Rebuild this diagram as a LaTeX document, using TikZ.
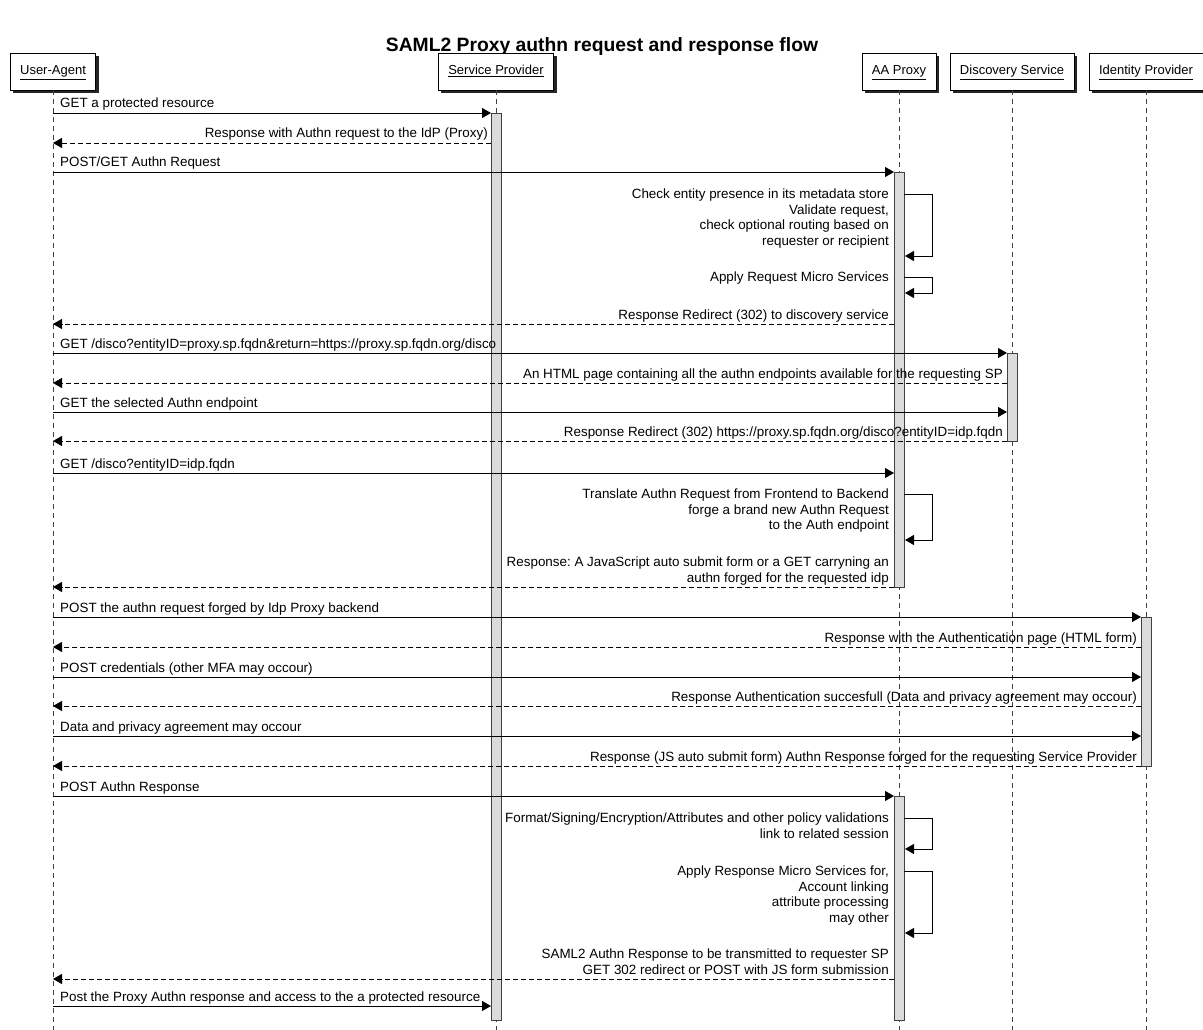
\documentclass[tikz,border=0pt]{standalone}
\usepackage{fontspec}
\setmainfont{Liberation Sans}
\usetikzlibrary{arrows.meta,shadows}
\frenchspacing
\begin{document}
\begin{tikzpicture}[x=1pt,y=-1pt,
  font=\fontsize{13.4}{15.5}\selectfont,
  part/.style={draw=black, fill=white, line width=0.8pt, minimum height=37pt, inner xsep=10pt,
    text height=10pt, text depth=3pt,
    font=\fontsize{13}{15.5}\selectfont,
    drop shadow={shadow xshift=3pt, shadow yshift=-3pt, fill=black, opacity=0.85}},
  life/.style={draw=black!75, dash pattern=on 5pt off 4pt, line width=0.8pt},
  act/.style={draw=black!75, fill=black!14, line width=0.8pt},
  msg/.style={line width=0.9pt, -{Triangle[length=9pt,width=10pt]}},
  ret/.style={msg, dash pattern=on 5pt off 3pt},
  lbl/.style={inner sep=0pt, anchor=base west},
  rlbl/.style={inner sep=0pt, anchor=base east, align=right},
]
\useasboundingbox (0,0) rectangle (1203,1030);

% title
\node[font=\bfseries\fontsize{19.3}{22}\selectfont] (title) at (602,47) {SAML2 Proxy authn request and response flow};

% participants
\node[part] (ua)  at (53,71.5)   {\underline{User-Agent}};
\node[part] (sp)  at (496,71.5)  {\underline{Service Provider}};
\node[part] (px)  at (899,71.5)  {\underline{AA Proxy}};
\node[part] (ds)  at (1012,71.5) {\underline{Discovery Service}};
\node[part] (idp) at (1146,71.5) {\underline{Identity Provider}};

% lifelines
\foreach \p in {ua,sp,px,ds,idp}{
  \coordinate (\p end) at (\p |- 0,1030);
  \draw[life] (\p.south) -- (\p end);
}

% activation bars (left edges as named coordinates)
\coordinate (spL) at (491,0);
\coordinate (pxL) at (894,0);
\coordinate (pxR) at (904,0);
\coordinate (dsL) at (1007,0);
\coordinate (idpL) at (1141,0);
\coordinate (loopX) at (932.5,0);

\path[act] (491,113) rectangle (501,1020);
\path[act] (894,172) rectangle (904,587);
\path[act] (894,796) rectangle (904,1020);
\path[act] (1007,353) rectangle (1017,441);
\path[act] (1141,617) rectangle (1151,766);

% messages
\draw[msg] (ua |- 0,113) -- (spL |- 0,113);
\node[lbl] (l1) at (60,108) {GET a protected resource};

\draw[ret] (spL |- 0,143) -- (ua |- 0,143);
\node[rlbl] (l2) at (488,138) {Response with Authn request to the IdP (Proxy)};

\draw[msg] (ua |- 0,172) -- (pxL |- 0,172);
\node[lbl] (l3) at (60,167) {POST/GET Authn Request};

\draw[msg] (pxR |- 0,194) -- (loopX |- 0,194) -- (loopX |- 0,256) -- (905,256);
\node[rlbl] (s1) at (889,245) {Check entity presence in its metadata store\\Validate request,\\check optional routing based on\\requester or recipient};

\draw[msg] (pxR |- 0,277) -- (loopX |- 0,277) -- (loopX |- 0,293) -- (905,293);
\node[rlbl] (s2) at (889,281.5) {Apply Request Micro Services};

\draw[ret] (pxL |- 0,324) -- (ua |- 0,324);
\node[rlbl] (l4) at (889,319) {Response Redirect (302) to discovery service};

\draw[msg] (ua |- 0,353) -- (dsL |- 0,353);
\node[lbl] (l5) at (60,348) {GET /disco?entityID=proxy.sp.fqdn\&return=https://proxy.sp.fqdn.org/disco};

\draw[ret] (dsL |- 0,383) -- (ua |- 0,383);
\node[rlbl] (l6) at (1003,378) {An HTML page containing all the authn endpoints available for the requesting SP};

\draw[msg] (ua |- 0,412) -- (dsL |- 0,412);
\node[lbl] (l7) at (60,407) {GET the selected Authn endpoint};

\draw[ret] (dsL |- 0,441) -- (ua |- 0,441);
\node[rlbl] (l8) at (1003,436) {Response Redirect (302) https://proxy.sp.fqdn.org/disco?entityID=idp.fqdn};

\draw[msg] (ua |- 0,473) -- (pxL |- 0,473);
\node[lbl] (l9) at (60,468) {GET /disco?entityID=idp.fqdn};

\draw[msg] (pxR |- 0,494) -- (loopX |- 0,494) -- (loopX |- 0,540) -- (905,540);
\node[rlbl] (s3) at (889,529.5) {Translate Authn Request from Frontend to Backend\\forge a brand new Authn Request\\to the Auth endpoint};

\draw[ret] (pxL |- 0,587) -- (ua |- 0,587);
\node[rlbl] (l10) at (889,582) {Response: A JavaScript auto submit form or a GET carryning an\\authn forged for the requested idp};

\draw[msg] (ua |- 0,617) -- (idpL |- 0,617);
\node[lbl] (l11) at (60,612) {POST the authn request forged by Idp Proxy backend};

\draw[ret] (idpL |- 0,647) -- (ua |- 0,647);
\node[rlbl] (l12) at (1137,642) {Response with the Authentication page (HTML form)};

\draw[msg] (ua |- 0,677) -- (idpL |- 0,677);
\node[lbl] (l13) at (60,672) {POST credentials (other MFA may occour)};

\draw[ret] (idpL |- 0,706) -- (ua |- 0,706);
\node[rlbl] (l14) at (1137,701) {Response Authentication succesfull (Data and privacy agreement may occour)};

\draw[msg] (ua |- 0,736) -- (idpL |- 0,736);
\node[lbl] (l15) at (60,731) {Data and privacy agreement may occour};

\draw[ret] (idpL |- 0,766) -- (ua |- 0,766);
\node[rlbl] (l16) at (1137,761) {Response (JS auto submit form) Authn Response forged for the requesting Service Provider};

\draw[msg] (ua |- 0,796) -- (pxL |- 0,796);
\node[lbl] (l17) at (60,791) {POST Authn Response};

\draw[msg] (pxR |- 0,818) -- (loopX |- 0,818) -- (loopX |- 0,849) -- (905,849);
\node[rlbl] (s4) at (889,838) {Format/Signing/Encryption/Attributes and other policy validations\\link to related session};

\draw[msg] (pxR |- 0,871) -- (loopX |- 0,871) -- (loopX |- 0,933) -- (905,933);
\node[rlbl] (s5) at (889,922) {Apply Response Micro Services for,\\Account linking\\attribute processing\\may other};

\draw[ret] (pxL |- 0,979) -- (ua |- 0,979);
\node[rlbl] (l18) at (889,974) {SAML2 Authn Response to be transmitted to requester SP\\GET 302 redirect or POST with JS form submission};

\draw[msg] (ua |- 0,1006) -- (spL |- 0,1006);
\node[lbl] (l19) at (60,1001) {Post the Proxy Authn response and access to the a protected resource};

\end{tikzpicture}
\end{document}
